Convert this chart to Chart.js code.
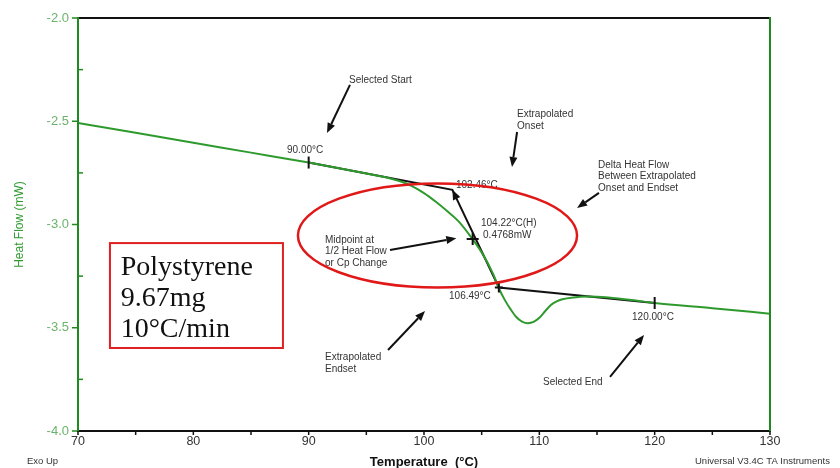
<!DOCTYPE html>
<html>
<head>
<meta charset="utf-8">
<script src="https://cdn.jsdelivr.net/npm/chart.js@4/dist/chart.umd.min.js"></script>
<style>
  html, body { margin: 0; padding: 0; background: #ffffff; }
  #wrap { width: 840px; height: 468px; }
</style>
</head>
<body>
<div id="wrap"><canvas id="dsc" width="840" height="468"></canvas></div>
<script>
// DSC scan of polystyrene: temperature (°C) vs heat flow (mW)
const temperature = [70, 75, 80, 85, 90, 94, 96, 97, 98, 99, 100, 101, 102, 103, 104, 105, 106, 106.5,
  107, 107.5, 108, 108.5, 109, 109.5, 110, 110.5, 111, 111.5, 112, 113, 114, 115, 116, 118, 120, 125, 130];
const heatFlow = [-2.508, -2.556, -2.604, -2.652, -2.700, -2.742, -2.764, -2.776, -2.792, -2.815, -2.848,
  -2.889, -2.935, -2.985, -3.055, -3.135, -3.240, -3.310, -3.365, -3.410, -3.448, -3.470, -3.478, -3.472,
  -3.452, -3.420, -3.390, -3.372, -3.362, -3.353, -3.349, -3.350, -3.354, -3.366, -3.380, -3.405, -3.432];

// Tangent construction: selected start, extrapolated onset, extrapolated endset, selected end
const constructionTemp = [90.00, 102.46, 106.49, 120.00];
const constructionFlow = [-2.700, -2.832, -3.305, -3.380];

// Glass transition midpoint and heat-flow step
const midpointTemp = 104.22;
const midpointFlow = -3.070;
const deltaHeatFlow = 0.4768;

// Axis tick labels
const xTickLabels = [70, 80, 90, 100, 110, 120, 130];
const yTickLabels = [-2.0, -2.5, -3.0, -3.5, -4.0];

const GREEN = '#2e9a2e';
const AXIS_GREEN = '#1f8a1f';
const TEXT = '#333333';

// Callout texts (left edge, vertical centre) in data units
const callouts = [
  { lines: ['Selected Start'], x: 93.50, y: [-2.300] },
  { lines: ['90.00°C'], x: 88.12, y: [-2.639] },
  { lines: ['Extrapolated', 'Onset'], x: 108.07, y: [-2.465, -2.523] },
  { lines: ['102.46°C'], x: 102.77, y: [-2.809] },
  { lines: ['Delta Heat Flow', 'Between Extrapolated', 'Onset and Endset'], x: 115.09, y: [-2.712, -2.768, -2.823] },
  { lines: [midpointTemp.toFixed(2) + '°C(H)'], x: 104.94, y: [-2.993] },
  { lines: [deltaHeatFlow.toFixed(4) + 'mW'], x: 105.12, y: [-3.051] },
  { lines: ['Midpoint at', '1/2 Heat Flow', 'or Cp Change'], x: 91.42, y: [-3.075, -3.128, -3.186] },
  { lines: ['106.49°C'], x: 102.17, y: [-3.346] },
  { lines: ['120.00°C'], x: 118.04, y: [-3.448] },
  { lines: ['Selected End'], x: 110.32, y: [-3.763] },
  { lines: ['Extrapolated', 'Endset'], x: 91.42, y: [-3.642, -3.700] }
];

// Pointer arrows: [fromT, fromQ, toT, toQ]
const pointers = [
  [93.58, -2.324, 91.59, -2.557],
  [108.07, -2.552, 107.63, -2.722],
  [115.17, -2.847, 113.27, -2.920],
  [97.05, -3.123, 102.80, -3.067],
  [116.13, -3.738, 119.08, -3.535],
  [96.88, -3.608, 100.09, -3.419]
];

function drawArrow(ctx, x1, y1, x2, y2, shaft) {
  const a = Math.atan2(y2 - y1, x2 - x1);
  const L = 10, W = 4;
  const bx = x2 - L * Math.cos(a), by = y2 - L * Math.sin(a);
  if (shaft) {
    ctx.beginPath();
    ctx.moveTo(x1, y1);
    ctx.lineTo(bx, by);
    ctx.stroke();
  }
  ctx.beginPath();
  ctx.moveTo(x2, y2);
  ctx.lineTo(bx + W * Math.sin(a), by - W * Math.cos(a));
  ctx.lineTo(bx - W * Math.sin(a), by + W * Math.cos(a));
  ctx.closePath();
  ctx.fill();
}

const dscDecor = {
  id: 'dscDecor',
  afterDatasetsDraw(chart) {
    const { ctx, chartArea: ca, scales } = chart;
    const X = v => scales.x.getPixelForValue(v);
    const Y = v => scales.y.getPixelForValue(v);
    ctx.save();

    // frame: black top/bottom, green sides
    ctx.lineWidth = 2;
    ctx.strokeStyle = '#111111';
    ctx.beginPath();
    ctx.moveTo(ca.left, ca.top); ctx.lineTo(ca.right, ca.top);
    ctx.moveTo(ca.left, ca.bottom); ctx.lineTo(ca.right, ca.bottom);
    ctx.stroke();
    ctx.strokeStyle = AXIS_GREEN;
    ctx.beginPath();
    ctx.moveTo(ca.left, ca.top - 1); ctx.lineTo(ca.left, ca.bottom + 1);
    ctx.moveTo(ca.right, ca.top - 1); ctx.lineTo(ca.right, ca.bottom + 1);
    ctx.stroke();

    // y ticks: major outward, minor inward
    ctx.lineWidth = 1.5;
    for (let v = -2.0; v >= -4.0001; v -= 0.25) {
      const py = Y(v);
      const major = Math.abs(v * 2 - Math.round(v * 2)) < 1e-6;
      ctx.beginPath();
      if (major) { ctx.moveTo(ca.left - 6, py); ctx.lineTo(ca.left, py); }
      else { ctx.moveTo(ca.left, py); ctx.lineTo(ca.left + 5, py); }
      ctx.stroke();
    }
    // x ticks every 5 °C, outward
    ctx.strokeStyle = '#111111';
    for (let t = 70; t <= 130; t += 5) {
      const px = X(t);
      ctx.beginPath();
      ctx.moveTo(px, ca.bottom); ctx.lineTo(px, ca.bottom + 4);
      ctx.stroke();
    }

    // limit ticks and markers on the construction
    ctx.strokeStyle = '#111111';
    ctx.fillStyle = '#111111';
    ctx.lineWidth = 2;
    [[constructionTemp[0], constructionFlow[0]], [constructionTemp[3], constructionFlow[3]]].forEach(([t, q]) => {
      ctx.beginPath();
      ctx.moveTo(X(t), Y(q) - 6); ctx.lineTo(X(t), Y(q) + 6);
      ctx.stroke();
    });
    // midpoint cross
    ctx.beginPath();
    ctx.moveTo(X(midpointTemp) - 6, Y(midpointFlow)); ctx.lineTo(X(midpointTemp) + 6, Y(midpointFlow));
    ctx.moveTo(X(midpointTemp), Y(midpointFlow) - 6); ctx.lineTo(X(midpointTemp), Y(midpointFlow) + 6);
    ctx.stroke();
    // endset cross
    const ex = X(constructionTemp[2]), ey = Y(constructionFlow[2]);
    ctx.beginPath();
    ctx.moveTo(ex - 4, ey); ctx.lineTo(ex + 4, ey);
    ctx.moveTo(ex, ey - 5); ctx.lineTo(ex, ey + 5);
    ctx.stroke();
    // arrowhead at the extrapolated onset along the step line
    drawArrow(ctx, ex, ey, X(constructionTemp[1]), Y(constructionFlow[1]), false);

    // pointer arrows
    ctx.lineWidth = 2;
    pointers.forEach(p => drawArrow(ctx, X(p[0]), Y(p[1]), X(p[2]), Y(p[3]), true));

    // callout texts
    ctx.fillStyle = TEXT;
    ctx.font = '10px "Liberation Sans", Arial, sans-serif';
    ctx.textBaseline = 'middle';
    ctx.textAlign = 'left';
    callouts.forEach(c => c.lines.forEach((s, i) => ctx.fillText(s, X(c.x), Y(c.y[i]))));

    // sample information box
    const bx1 = X(72.77), by1 = Y(-3.090), bx2 = X(87.77), by2 = Y(-3.598);
    ctx.strokeStyle = '#e02020';
    ctx.lineWidth = 2;
    ctx.strokeRect(bx1, by1, bx2 - bx1, by2 - by1);
    ctx.fillStyle = '#111111';
    ctx.font = '28px "Liberation Serif", "Times New Roman", serif';
    ctx.textBaseline = 'alphabetic';
    ['Polystyrene', '9.67mg', '10°C/min'].forEach((s, i) => ctx.fillText(s, X(73.70), by1 + 32 + i * 31));

    // highlight ellipse around the transition
    const cx = X(101.17), cy = Y(-3.053);
    const rx = X(101.17 + 12.10) - cx, ry = Y(-3.053 - 0.252) - cy;
    ctx.strokeStyle = '#e01818';
    ctx.lineWidth = 2.5;
    ctx.beginPath();
    ctx.ellipse(cx, cy, rx, ry, 0, 0, Math.PI * 2);
    ctx.stroke();

    // footer texts
    ctx.fillStyle = TEXT;
    ctx.font = '9.5px "Liberation Sans", Arial, sans-serif';
    ctx.textBaseline = 'middle';
    ctx.textAlign = 'left';
    ctx.fillText('Exo Up', 27, 461);
    ctx.fillText('Universal V3.4C TA Instruments', 695, 461);
    ctx.restore();
  }
};

new Chart(document.getElementById('dsc'), {
  type: 'line',
  data: {
    datasets: [
      {
        label: 'Heat Flow',
        data: temperature.map((t, i) => ({ x: t, y: heatFlow[i] })),
        borderColor: GREEN,
        borderWidth: 2,
        pointRadius: 0,
        cubicInterpolationMode: 'monotone',
        fill: false
      },
      {
        label: 'Construction',
        data: constructionTemp.map((t, i) => ({ x: t, y: constructionFlow[i] })),
        borderColor: '#111111',
        borderWidth: 2,
        pointRadius: 0,
        tension: 0,
        fill: false
      }
    ]
  },
  options: {
    responsive: false,
    devicePixelRatio: 1,
    animation: false,
    layout: { padding: { left: 0, right: 70, top: 18, bottom: 0 } },
    plugins: { legend: { display: false }, tooltip: { enabled: false } },
    scales: {
      x: {
        type: 'linear',
        min: 70, max: 130,
        afterFit: s => { s.height = 37; },
        grid: { display: false, drawTicks: false },
        border: { display: false },
        ticks: {
          stepSize: 10,
          padding: 3,
          color: TEXT,
          font: { family: '"Liberation Sans", Arial, sans-serif', size: 12.5 },
          callback: v => xTickLabels.includes(v) ? String(v) : ''
        },
        title: {
          display: true,
          text: 'Temperature  (°C)',
          color: '#111111',
          font: { family: '"Liberation Sans", Arial, sans-serif', size: 13, weight: 'bold', lineHeight: 0.8 },
          padding: { top: 0, bottom: 0 }
        }
      },
      y: {
        type: 'linear',
        min: -4.0, max: -2.0,
        afterFit: s => { s.width = 78; },
        grid: { display: false, drawTicks: false },
        border: { display: false },
        ticks: {
          stepSize: 0.5,
          padding: 9,
          color: '#6ab46a',
          font: { family: '"Liberation Sans", Arial, sans-serif', size: 13 },
          callback: v => yTickLabels.some(l => Math.abs(l - v) < 1e-6) ? v.toFixed(1) : ''
        },
        title: {
          display: true,
          text: 'Heat Flow (mW)',
          color: GREEN,
          font: { family: '"Liberation Sans", Arial, sans-serif', size: 12 },
          padding: { top: 12, bottom: 0 }
        }
      }
    }
  },
  plugins: [dscDecor]
});
</script>
</body>
</html>
